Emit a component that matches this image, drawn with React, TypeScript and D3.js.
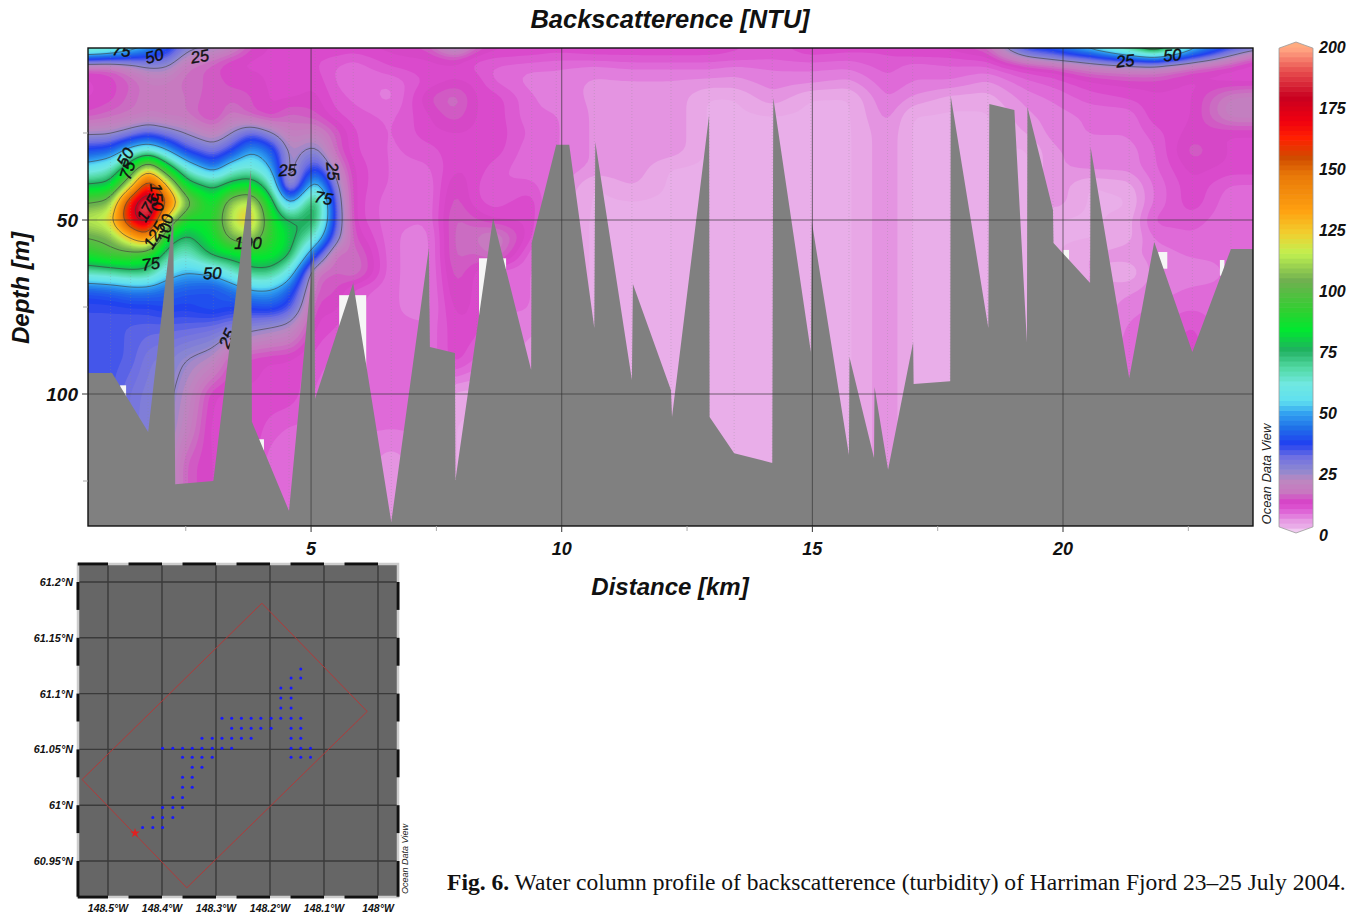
import React, { useMemo } from "react";
import * as d3 from "d3";

// ---------- section data ----------
const depthLevels = [0.5, 3, 6, 10, 15, 20, 25, 30, 35, 40, 45, 50, 55, 60, 65, 70, 75, 80, 90, 100, 110, 120, 138];
const stationKm = [0.55, 1.0, 1.4, 1.75, 2.1, 2.5, 3.05, 3.4, 3.8, 4.2, 4.56, 5.08, 5.5, 5.84, 6.6, 7.35, 7.87, 8.3, 8.63, 9.4, 9.89, 10.65, 11.4, 12.18, 12.94, 13.44, 14.2, 14.97, 15.73, 16.5, 17.0, 17.75, 18.5, 19.3, 19.8, 20.54, 21.32, 21.82, 22.58, 23.35, 23.79];
const backscatterByStation = [
  [72,46,13,12,12,14,23,38,55,76,100,115,100,88,66,40,35,34,34,34,34,34,34],
  [68,42,14,13,13,16,23,40,62,78,105,120,105,95,68,42,35,34,34,34,34,34,34],
  [58,38,20,15,16,17,27,55,85,115,170,172,125,95,72,45,36,33,33,30,30,30,30],
  [50,36,25,18,18,18,32,62,120,170,198,190,145,88,72,45,36,33,29,28,27,27,27],
  [42,33,25,18,18,17,28,50,85,128,155,118,82,70,56,42,38,33,28,27,26,25,25],
  [28,22,17,16,17,17,24,35,60,82,108,85,72,62,50,40,37,33,25,22,20,15,15],
  [25,18,14,15,14,12,19,28,42,72,82,88,85,78,52,38,40,32,22,12,11,12,12],
  [22,14,12,13,15,18,24,35,58,80,110,115,105,80,62,42,38,30,14,12,12,12,12],
  [14,12,12,13,14,14,32,50,62,85,118,128,110,85,72,50,38,28,13,12,12,12,10],
  [12,12,12,12,12,12,25,42,50,65,82,88,90,85,72,50,40,26,12,12,10,8,8],
  [12,12,12,11,12,16,18,22,20,15,45,75,80,78,58,42,35,24,12,12,9,8,8],
  [12,11,11,12,13,14,20,27,38,58,80,78,62,38,16,15,13,12,10,9,9,8,8],
  [12,11,9,9,10,11,15,15,20,26,30,32,28,14,15,14,13,11,9,8,8,8,8],
  [12,10,8,8,9,10,11,11,12,12,12,12,14,17,18,10,10,9,8,8,8,8,8],
  [13,12,11,8,7,9,9,9,9,9,8,8,8,8,8,8,8,8,8,8,8,5,5],
  [15,12,12,11,14,12,12,10,9,8,8,8,7,7,7,7,7,8,8,8,8,8,8],
  [28,13,12,12,17,15,12,12,12,14,15,16,16,16,15,14,13,12,12,4,3,3,3],
  [16,11,10,12,12,12,12,12,12,11,11,14,17,15,12,12,12,12,9,4,3,3,3],
  [13,11,9,9,12,12,12,12,10,9,10,12,20,18,8,8,8,8,8,8,8,8,8],
  [12,11,8,7,8,8,9,8,8,10,12,12,11,8,8,8,8,7,5,5,5,5,5],
  [12,10,8,7,7,8,8,8,8,7,6,5,5,5,5,5,5,5,5,5,5,5,5],
  [12,11,7,6,6,6,6,6,6,3,3,3,3,3,3,3,3,3,3,3,3,3,3],
  [12,11,8,6,6,6,6,6,6,5,3,3,3,3,3,3,3,3,3,3,3,3,3],
  [12,11,8,6,6,6,6,6,3,3,3,3,3,3,3,3,3,3,3,3,3,3,3],
  [12,11,8,6,3,3,3,3,3,3,3,3,3,3,3,3,3,3,3,3,3,3,3],
  [11,11,7,6,3,3,3,3,3,3,3,3,3,3,3,3,3,3,3,3,3,3,3],
  [10,10,8,7,6,3,3,3,3,3,3,3,3,3,3,3,3,3,3,3,3,3,3],
  [12,11,8,7,3,3,3,3,3,3,3,3,3,3,3,3,3,3,3,3,3,3,3],
  [12,10,8,6,3,3,3,3,3,3,3,3,3,3,3,3,3,3,3,3,3,3,3],
  [11,11,10,9,8,7,6,6,6,6,6,6,6,6,6,6,6,6,6,6,6,6,6],
  [13,11,8,8,6,3,3,3,3,3,3,3,3,3,3,3,3,3,3,3,3,3,3],
  [13,11,9,8,4,3,3,3,3,3,3,3,3,3,3,3,3,3,3,3,3,3,3],
  [16,12,9,6,4,3,3,3,3,3,3,3,3,3,3,3,3,3,3,3,3,3,3],
  [40,24,12,9,7,6,5,3,3,3,3,3,3,3,3,3,3,3,3,3,3,3,3],
  [42,30,13,10,8,7,7,6,6,6,6,3,3,3,3,3,3,3,3,3,3,3,3],
  [56,35,18,12,10,8,8,7,7,3,3,3,3,5,5,5,5,5,5,5,5,5,5],
  [75,45,20,13,11,8,8,7,7,4,3,4,4,6,3,6,7,8,9,9,9,9,9],
  [95,50,20,13,12,12,10,9,9,8,8,10,8,7,7,7,8,9,10,10,10,10,10],
  [55,38,14,12,12,12,13,15,13,12,12,10,9,8,7,8,9,11,12,12,12,12,12],
  [38,22,12,11,19,20,12,12,12,9,8,8,8,8,8,8,8,8,8,8,8,8,8],
  [32,14,11,11,20,20,12,12,12,9,8,8,8,8,8,8,8,8,8,8,8,8,8],
];

// sea floor mask, along-section distance and depth
const bottomKm = [0.55,1.03,1.75,2.25,2.29,3.05,3.80,3.82,4.56,5.06,5.08,5.84,6.60,7.35,7.37,7.87,7.88,8.63,9.39,9.40,9.89,10.15,10.65,10.67,11.40,11.42,12.18,12.20,12.94,12.95,13.44,14.20,14.22,14.97,14.99,15.73,15.74,16.23,16.24,16.51,17.01,17.02,17.75,17.76,18.51,18.53,19.03,19.28,19.29,19.80,19.81,20.54,20.55,21.32,21.82,22.58,23.35,23.79];
const bottomDepth = [94,94,110.9,48.6,125.9,125,35.6,108,133.6,57.8,101.4,68.1,136.8,58,86.5,88.2,124.7,49.4,93.1,56.6,28.4,28.4,81,27.6,96,68.4,98.9,106.6,19.8,106.6,117,119.8,14.9,87.9,50.6,117.5,89.4,118.4,98,121.8,85.1,97.1,96.3,14.4,81,16.7,18.4,85.1,17.5,47.1,56.6,68.1,29,95.4,56.3,87.9,58.3,58.3];

// gaps without data, [km0, km1, depth0, depth1]
const dataGaps = [
  [5.56, 6.1, 71.6, 95], [8.35, 8.89, 61, 95], [1.19, 1.31, 97.5, 102], [3.94, 4.06, 113, 118],
  [20.0, 20.12, 58.6, 63], [21.9, 22.08, 59.2, 64], [23.13, 23.22, 61.5, 66],
];

const contourLevels = [25, 50, 75, 100, 125, 150, 175];
const contourLabels: [string, number, number, number][] = [
  ["75", 1.22, 1.2, 8], ["50", 1.87, 2.8, -15], ["25", 2.78, 2.9, -10],
  ["50", 1.29, 31.9, -60], ["75", 1.33, 35.7, -72], ["150", 1.93, 43.4, 85], ["175", 1.73, 46.6, -60],
  ["125", 1.87, 54.3, -60], ["100", 2.09, 52.3, -80], ["75", 1.8, 62.5, -8], ["50", 3.03, 65.2, -2],
  ["100", 3.74, 56.6, 0], ["25", 4.53, 35.6, -3], ["25", 5.44, 36, 85], ["75", 5.25, 43.6, 10],
  ["25", 3.32, 84, -65], ["25", 21.24, 4.2, -6], ["50", 22.18, 2.5, -5],
];

const colourStops = [0, 1.4, 2.5, 4, 6, 8, 12.5, 17, 21.7, 25.8, 31, 36.6, 43, 48.8, 54, 61, 67.8, 74.6, 82.7, 90.8, 103, 114, 122, 131.5, 146, 153, 161, 168, 177.6, 188.5, 196.6, 200];
const colourValues = ["#f2d0f2", "#f0c8f0", "#e9aee9", "#e8a8e6", "#e38ee0", "#e070da", "#d840c8", "#c878c0", "#bc88c0", "#8c88d0", "#7070e2", "#2040f0", "#2070e8", "#30a0f0", "#60e0f0", "#70e8e0", "#50d8a0", "#20b060", "#00e830", "#30d030", "#70b050", "#c0f050", "#f0d030", "#ffa010", "#e87808", "#d04c00", "#ff2000", "#f00010", "#c80020", "#e85050", "#ffa080", "#ffb080"];
const colourTicks = [0, 25, 50, 75, 100, 125, 150, 175, 200];

const xTicksMajor = [5, 10, 15, 20];
const xTicksMinor = [2.5, 7.5, 12.5, 17.5, 22.5];
const yTicksMajor = [50, 100];
const yTicksMinor = [25, 75, 125];

// ---------- map data ----------
const mapLonTicks = [148.5, 148.4, 148.3, 148.2, 148.1, 148];
const mapLatTicks = [61.2, 61.15, 61.1, 61.05, 61, 60.95];
const sectionBox = [[148.215, 61.181], [148.02, 61.084], [148.354, 60.926], [148.548, 61.023]];
const sectionStart = [148.45, 60.975];
const L = [148.436, 148.417, 148.399, 148.38, 148.362, 148.344, 148.326, 148.307, 148.289, 148.271, 148.253, 148.235, 148.217, 148.198, 148.18, 148.161, 148.143, 148.125];
const stationRows: [number, number[]][] = [
  [61.122, [L[16]]],
  [61.114, [L[15], L[16]]],
  [61.105, [L[14], L[15]]],
  [61.096, [L[14], L[15]]],
  [61.087, [L[14], L[15]]],
  [61.078, [L[8], L[9], L[10], L[11], L[12], L[13], L[14], L[15], L[16]]],
  [61.069, [L[9], L[10], L[11], L[12], L[13], L[15], L[16]]],
  [61.06, [L[6], L[7], L[8], L[9], L[10], L[11], L[15], L[16]]],
  [61.051, [L[2], L[3], L[4], L[5], L[6], L[7], L[8], L[9], L[15], L[16], L[17]]],
  [61.043, [L[4], L[5], L[6], L[7], L[15], L[16], L[17]]],
  [61.034, [L[5], L[6]]],
  [61.025, [L[4], L[5]]],
  [61.016, [L[4], L[5]]],
  [61.007, [L[3], L[4]]],
  [60.998, [L[2], L[3], L[4]]],
  [60.989, [L[1], L[2], L[3]]],
  [60.98, [L[0], L[1], L[2]]],
];

const SANS = "'Liberation Sans', Arial, sans-serif";
const P = { l: 88, r: 1253, t: 48, b: 526 };
const x = d3.scaleLinear().domain([0.55, 23.79]).range([P.l, P.r]);
const y = d3.scaleLinear().domain([0.575, 137.93]).range([P.t, P.b]);
const colour = d3.scaleLinear<string>().domain(colourStops).range(colourValues).clamp(true);
const lonX = d3.scaleLinear().domain([148.5, 148]).range([108, 378]);
const latY = d3.scaleLinear().domain([61.2, 60.95]).range([582, 861]);
const barY = d3.scaleLinear().domain([0, 200]).range([533, 42]);
const barLabelY = d3.scaleLinear().domain([0, 200]).range([535, 47]);

function buildField() {
  const cell = 4;
  const pad = 8;
  const w = Math.ceil((P.r - P.l + 2 * pad) / cell);
  const h = Math.ceil((P.b - P.t + 2 * pad) / cell);
  const data = new Float64Array(w * h);
  const seg = (arr: number[], v: number) => {
    const i = Math.min(arr.length - 2, Math.max(0, d3.bisectRight(arr, v) - 1));
    const t = Math.max(0, Math.min(1, (v - arr[i]) / (arr[i + 1] - arr[i])));
    return [i, t];
  };
  for (let j = 0; j < h; j++) {
    const [r, tr] = seg(depthLevels, y.invert(P.t - pad + (j + 0.5) * cell));
    for (let i = 0; i < w; i++) {
      const [c, tc] = seg(stationKm, x.invert(P.l - pad + (i + 0.5) * cell));
      const a = backscatterByStation[c], b = backscatterByStation[c + 1];
      data[j * w + i] = (a[r] * (1 - tr) + a[r + 1] * tr) * (1 - tc) + (b[r] * (1 - tr) + b[r + 1] * tr) * tc;
    }
  }
  d3.blur2({ data, width: w, height: h }, 1);
  const gen = d3.contours().size([w, h]).smooth(true);
  const path = d3.geoPath(
    d3.geoTransform({
      point(px, py) {
        this.stream.point(P.l - pad + px * cell, P.t - pad + py * cell);
      },
    })
  );
  const bands = d3.range(0.3, 198, 1.5).map((t) => ({
    d: path(gen.contour(data as any, t)) || "",
    fill: colour(t + 0.75),
  }));
  const lines = contourLevels.map((t) => path(gen.contour(data as any, t)) || "");
  return { bands, lines };
}

function Text(props: any) {
  return <text fontFamily={SANS} fontWeight="bold" fontStyle="italic" fill="#111" {...props} />;
}

export default function App() {
  const { bands, lines } = useMemo(buildField, []);
  const bottomPath =
    d3.line()(bottomKm.map((k, i) => [x(k), y(bottomDepth[i])]) as any)! +
    `L${P.r},${P.b}L${P.l},${P.b}Z`;
  const barValues = d3.range(0, 200, 2);
  const hex = `${(1279 + 1313) / 2},${barY(200)} 1313,${barY(197.5)} 1313,${barY(2.5)} ${(1279 + 1313) / 2},${barY(0)} 1279,${barY(2.5)} 1279,${barY(197.5)}`;
  const lonSeg = d3.range(0, 6).map((i) => [148.556 - 0.1 * i + (i === 0 ? 0 : 0.006), 148.5 - 0.1 * i]);
  const latSeg = d3.range(0, 6).map((i) => [61.2 - 0.05 * i, 61.175 - 0.05 * i - (i === 5 ? 0.007 : 0)]);
  const box = { l: 78, r: 398, t: 564, b: 897 };
  return (
    <svg width={1359} height={913} style={{ position: "absolute", left: 0, top: 0, background: "#fff" }}>
      <defs>
        <clipPath id="plot"><rect x={P.l} y={P.t} width={P.r - P.l} height={P.b - P.t} /></clipPath>
        <clipPath id="bar"><polygon points={hex} /></clipPath>
      </defs>

      <Text x={670} y={28} textAnchor="middle" fontSize={25.5}>Backscatterence [NTU]</Text>

      <g clipPath="url(#plot)">
        <rect x={P.l} y={P.t} width={P.r - P.l} height={P.b - P.t} fill={colour(3)} />
        {bands.map((b, i) => <path key={i} d={b.d} fill={b.fill} />)}
        {lines.map((d, i) => <path key={i} d={d} fill="none" stroke="#3c3c3c" strokeWidth={0.8} strokeOpacity={0.75} />)}
        {dataGaps.map((g, i) => (
          <rect key={i} x={x(g[0])} y={y(g[2])} width={x(g[1]) - x(g[0])} height={y(g[3]) - y(g[2])} fill="#f6f6f6" />
        ))}
        {stationKm.map((k, i) => (
          <line key={i} x1={x(k)} x2={x(k)} y1={P.t} y2={P.b} stroke="#888" strokeOpacity={0.5} strokeWidth={0.6} strokeDasharray="1 2" />
        ))}
        {contourLabels.map(([t, k, dp, rot], i) => (
          <text key={i} fontFamily={SANS} fontStyle="italic" fontSize={16.5} fill="#111" stroke="#111" strokeWidth={0.4}
            textAnchor="middle" dominantBaseline="central"
            transform={`translate(${x(k)},${y(dp)}) rotate(${rot})`}>{t}</text>
        ))}
        <path d={bottomPath} fill="#808080" />
        {xTicksMajor.map((t) => <line key={t} x1={x(t)} x2={x(t)} y1={P.t} y2={P.b} stroke="#333" strokeOpacity={0.75} strokeWidth={0.9} />)}
        {yTicksMajor.map((t) => <line key={t} x1={P.l} x2={P.r} y1={y(t)} y2={y(t)} stroke="#333" strokeOpacity={0.75} strokeWidth={0.9} />)}
      </g>
      <rect x={P.l} y={P.t} width={P.r - P.l} height={P.b - P.t} fill="none" stroke="#111" strokeWidth={1.4} />

      {xTicksMajor.map((t) => (
        <g key={t}>
          <line x1={x(t)} x2={x(t)} y1={P.b} y2={P.b + 6} stroke="#333" />
          <Text x={x(t)} y={555} textAnchor="middle" fontSize={18}>{t}</Text>
        </g>
      ))}
      {xTicksMinor.map((t) => <line key={t} x1={x(t)} x2={x(t)} y1={P.b} y2={P.b + 5} stroke="#aaa" />)}
      {yTicksMajor.map((t) => (
        <g key={t}>
          <line x1={P.l - 6} x2={P.l} y1={y(t)} y2={y(t)} stroke="#333" />
          <Text x={78} y={y(t) + 7} textAnchor="end" fontSize={19}>{t}</Text>
        </g>
      ))}
      {yTicksMinor.map((t) => <line key={t} x1={P.l - 5} x2={P.l} y1={y(t)} y2={y(t)} stroke="#aaa" />)}
      <Text transform="translate(29,288) rotate(-90)" textAnchor="middle" fontSize={24}>Depth [m]</Text>
      <Text x={670} y={595} textAnchor="middle" fontSize={24}>Distance [km]</Text>

      <g clipPath="url(#bar)">
        {barValues.map((v) => (
          <rect key={v} x={1279} width={34} y={barY(v + 2)} height={barY(v) - barY(v + 2) + 0.6} fill={colour(v + 1)} />
        ))}
      </g>
      <polygon points={hex} fill="none" stroke="#999" strokeWidth={0.8} />
      {colourTicks.map((t) => (
        <Text key={t} x={1319} y={barLabelY(t) + 6} fontSize={16}>{t}</Text>
      ))}
      <text transform="translate(1271,474) rotate(-90)" textAnchor="middle" fontFamily={SANS} fontStyle="italic" fontSize={13} fill="#222">Ocean Data View</text>

      {/* station map */}
      <rect x={box.l} y={box.t} width={box.r - box.l} height={box.b - box.t} fill="#666" />
      {mapLonTicks.map((t) => <line key={t} x1={lonX(t)} x2={lonX(t)} y1={box.t} y2={box.b} stroke="#3a3a3a" strokeWidth={1.4} />)}
      {mapLatTicks.map((t) => <line key={t} x1={box.l} x2={box.r} y1={latY(t)} y2={latY(t)} stroke="#3a3a3a" strokeWidth={1.4} />)}
      <rect x={box.l} y={box.t} width={box.r - box.l} height={box.b - box.t} fill="none" stroke="#ccc" strokeWidth={2.5} />
      {lonSeg.map(([a, b], i) => (
        <g key={i} stroke="#111" strokeWidth={3}>
          <line x1={lonX(a)} x2={lonX(b)} y1={box.t} y2={box.t} />
          <line x1={lonX(a)} x2={lonX(b)} y1={box.b} y2={box.b} />
        </g>
      ))}
      {latSeg.map(([a, b], i) => (
        <g key={i} stroke="#111" strokeWidth={3}>
          <line x1={box.l} x2={box.l} y1={latY(a)} y2={latY(b)} />
          <line x1={box.r} x2={box.r} y1={latY(a)} y2={latY(b)} />
        </g>
      ))}
      <polygon points={sectionBox.map((p) => `${lonX(p[0])},${latY(p[1])}`).join(" ")} fill="none" stroke="#b03a3a" strokeWidth={1} />
      {stationRows.map(([lat, lons]) =>
        lons.map((lon, i) => <circle key={`${lat}-${i}`} cx={lonX(lon)} cy={latY(lat)} r={1.5} fill="#1818ff" />)
      )}
      <path transform={`translate(${lonX(sectionStart[0])},${latY(sectionStart[1])})`} d={d3.symbol(d3.symbolStar, 30)()!} fill="#e02020" />
      {mapLatTicks.map((t) => (
        <Text key={t} x={73} y={latY(t) + 4} textAnchor="end" fontSize={10.8}>{`${t}°N`}</Text>
      ))}
      {mapLonTicks.map((t) => (
        <Text key={t} x={lonX(t)} y={912} textAnchor="middle" fontSize={10.5}>{`${t}°W`}</Text>
      ))}
      <text transform="translate(408,859) rotate(-90)" textAnchor="middle" fontFamily={SANS} fontStyle="italic" fontSize={9} fill="#222">Ocean Data View</text>

      <text x={447} y={890} fontFamily="'Liberation Serif', serif" fontSize={23.55} fill="#111">
        <tspan fontWeight="bold">Fig. 6.</tspan> Water column profile of backscatterence (turbidity) of Harriman Fjord 23–25 July 2004.
      </text>
    </svg>
  );
}
